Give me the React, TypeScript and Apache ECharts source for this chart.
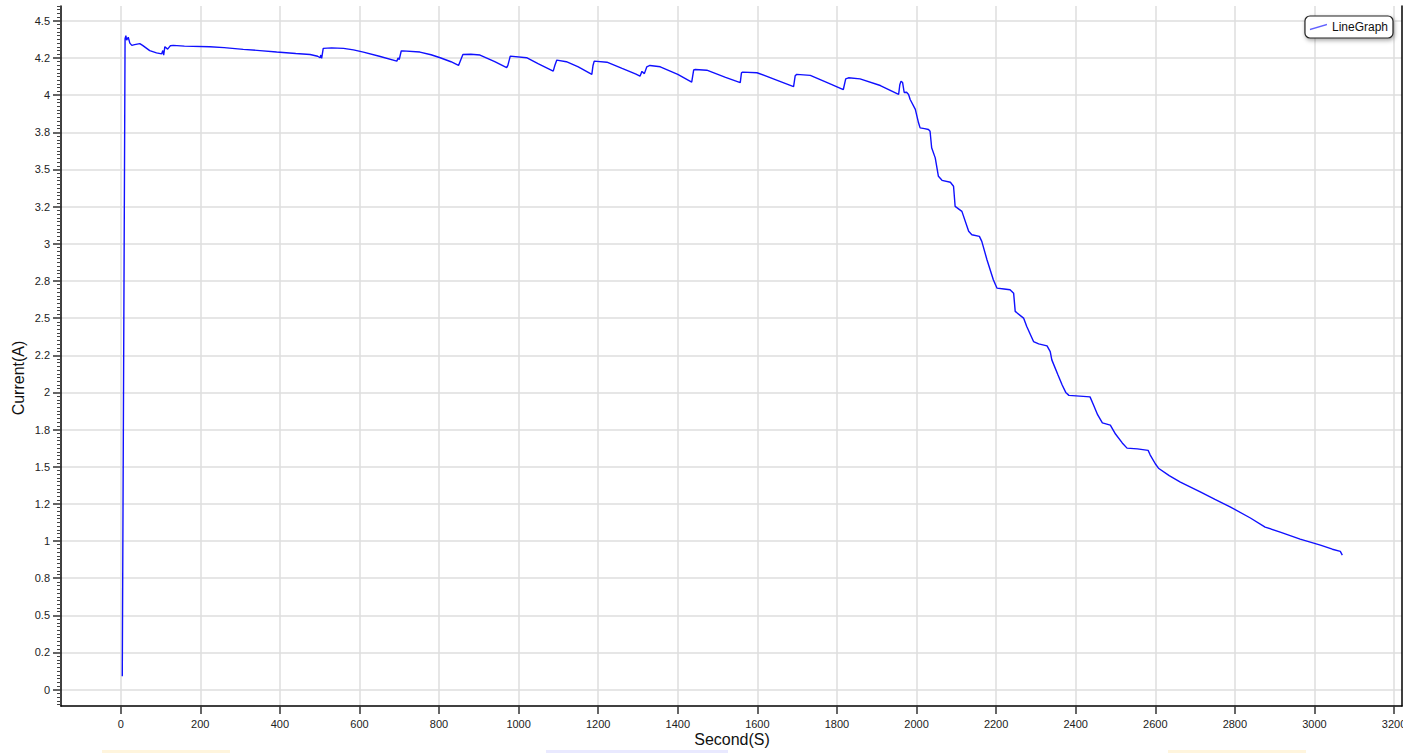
import React, { useEffect, useRef } from "react";
import * as echarts from "echarts";

const seconds = [
  4, 11, 13, 15, 19, 23, 28, 35, 48, 55, 73, 90, 103, 106, 108, 111, 118, 125, 132, 160,
  224, 260, 308, 350, 392, 440, 476, 495, 501, 503, 505, 509, 530, 560, 585, 610, 650, 694,
  697, 700, 705, 709, 752, 780, 803, 830, 849, 852, 860, 880, 903, 940, 970, 973, 979, 1020,
  1050, 1087, 1091, 1096, 1120, 1150, 1184, 1187, 1190, 1222, 1260, 1295, 1300, 1305, 1310,
  1316, 1322, 1330, 1356, 1400, 1435, 1440, 1444, 1473, 1520, 1557, 1560, 1563, 1599, 1650,
  1691, 1695, 1699, 1733, 1780, 1816, 1822, 1829, 1858, 1909, 1951, 1955, 1958, 1961, 1965,
  1969, 1975, 1980, 1984, 1997, 2005, 2009, 2020, 2030, 2034, 2038, 2047, 2055, 2064, 2085,
  2093, 2097, 2114, 2131, 2139, 2158, 2164, 2177, 2193, 2202, 2220, 2235, 2244, 2248, 2269,
  2277, 2294, 2307, 2328, 2336, 2340, 2355, 2366, 2375, 2383, 2410, 2436, 2444, 2455, 2467,
  2487, 2500, 2517, 2529, 2555, 2582, 2587, 2600, 2608, 2635, 2663, 2713, 2750, 2788, 2839,
  2876, 2914, 2964, 3015, 3045, 3065, 3070,
];
const current = [
  0.09, 4.38, 4.4, 4.37, 4.39, 4.35, 4.335, 4.34, 4.347, 4.335, 4.3, 4.285, 4.278, 4.3, 4.27,
  4.326, 4.31, 4.333, 4.335, 4.33, 4.326, 4.32, 4.308, 4.3, 4.29, 4.28, 4.274, 4.262, 4.252,
  4.27, 4.248, 4.315, 4.318, 4.315, 4.305, 4.29, 4.262, 4.229, 4.25, 4.24, 4.297, 4.298, 4.29,
  4.272, 4.252, 4.225, 4.2, 4.22, 4.274, 4.275, 4.27, 4.225, 4.185, 4.2, 4.263, 4.252, 4.21,
  4.162, 4.2, 4.236, 4.225, 4.19, 4.14, 4.2, 4.229, 4.222, 4.18, 4.142, 4.135, 4.128, 4.16,
  4.145, 4.19, 4.2, 4.191, 4.14, 4.088, 4.17, 4.173, 4.168, 4.12, 4.084, 4.15, 4.155, 4.151,
  4.1, 4.057, 4.13, 4.14, 4.133, 4.08, 4.038, 4.11, 4.117, 4.11, 4.065, 4.011, 4.005, 4.07,
  4.094, 4.085, 4.018, 4.02, 4.005, 3.971, 3.904, 3.814, 3.78, 3.775, 3.769, 3.757, 3.646,
  3.578, 3.454, 3.427, 3.414, 3.387, 3.252, 3.218, 3.084, 3.061, 3.05, 3.016, 2.893, 2.758,
  2.702, 2.696, 2.691, 2.668, 2.545, 2.5, 2.443, 2.342, 2.327, 2.313, 2.275, 2.219, 2.12, 2.05,
  2.0, 1.98, 1.975, 1.97, 1.92, 1.85, 1.795, 1.78, 1.72, 1.66, 1.625, 1.62, 1.61, 1.58, 1.52,
  1.49, 1.44, 1.397, 1.33, 1.28, 1.23, 1.155, 1.094, 1.06, 1.013, 0.972, 0.945, 0.93, 0.905,
];

const xTickValues = [0, 200, 400, 600, 800, 1000, 1200, 1400, 1600, 1800, 2000, 2200, 2400, 2600, 2800, 3000, 3200];
const yTickValues = [0, 0.25, 0.5, 0.75, 1, 1.25, 1.5, 1.75, 2, 2.25, 2.5, 2.75, 3, 3.25, 3.5, 3.75, 4, 4.25, 4.5];
const yTickLabels = ["0", "0.2", "0.5", "0.8", "1", "1.2", "1.5", "1.8", "2", "2.2", "2.5", "2.8", "3", "3.2", "3.5", "3.8", "4", "4.2", "4.5"];

const seriesName = "LineGraph";
const xTitle = "Second(S)";
const yTitle = "Current(A)";

const FONT = "'Liberation Sans', Arial, Helvetica, sans-serif";
const Y_MIN = -0.11;
const Y_MAX = 4.6;

export default function App() {
  const ref = useRef<HTMLDivElement>(null);

  useEffect(() => {
    if (!ref.current) return;
    const chart = echarts.init(ref.current, undefined, { renderer: "svg" });

    const minorTicks: number[] = [];
    for (let i = -4; i <= 184; i++) {
      const v = Math.round(i * 0.025 * 1000) / 1000;
      if (i % 10 !== 0 && v >= Y_MIN && v <= Y_MAX) minorTicks.push(v);
    }

    const data = seconds.map((s, i) => [s, current[i]]);

    chart.setOption({
      animation: false,
      backgroundColor: "#ffffff",
      textStyle: { fontFamily: FONT },
      grid: { left: 61, right: 13, top: 6, bottom: 47, containLabel: false },
      legend: {
        data: [{ name: seriesName, icon: "path://M0,5 L17,0 L17,1.5 L0,6.5 Z" }],
        right: 22,
        top: 16,
        padding: [4, 5, 4, 5],
        itemWidth: 17,
        itemHeight: 6.5,
        itemGap: 6,
        borderColor: "#222",
        borderWidth: 1.2,
        borderRadius: 5,
        backgroundColor: "#fff",
        shadowBlur: 4,
        shadowColor: "rgba(0,0,0,0.35)",
        shadowOffsetX: 1,
        shadowOffsetY: 2,
        itemStyle: { color: "#6060ff" },
        textStyle: { fontSize: 12, color: "#111", fontFamily: FONT, lineHeight: 14 },
      },
      xAxis: {
        type: "value",
        min: -150,
        max: 3220,
        axisLine: { show: true, onZero: false, lineStyle: { color: "#000", width: 1.5 } },
        axisTick: { show: true, customValues: xTickValues, length: 8, lineStyle: { color: "#333", width: 1.5 } },
        axisLabel: {
          customValues: xTickValues,
          margin: 12,
          fontSize: 11,
          color: "#222",
          fontFamily: FONT,
          formatter: (v: number) => String(v),
        },
        splitLine: { show: true, lineStyle: { color: "#dedede", width: 1.5 } },
      },
      yAxis: [
        {
          type: "value",
          position: "left",
          min: Y_MIN,
          max: Y_MAX,
          axisLine: { show: true, onZero: false, lineStyle: { color: "#000", width: 1.5 } },
          axisTick: { show: true, customValues: yTickValues, length: 8, lineStyle: { color: "#333", width: 1.5 } },
          axisLabel: {
            customValues: yTickValues,
            margin: 11,
            fontSize: 11,
            color: "#222",
            fontFamily: FONT,
            formatter: (v: number) => {
              const i = yTickValues.findIndex((t) => Math.abs(t - v) < 1e-6);
              return i >= 0 ? yTickLabels[i] : "";
            },
          },
          splitLine: { show: true, lineStyle: { color: "#dedede", width: 1.5 } },
        },
        {
          type: "value",
          position: "left",
          min: Y_MIN,
          max: Y_MAX,
          axisLine: { show: false, onZero: false },
          axisTick: { show: true, customValues: minorTicks, length: 4, lineStyle: { color: "#444", width: 1 } },
          axisLabel: { show: false },
          splitLine: { show: false },
        },
        {
          type: "value",
          position: "right",
          min: Y_MIN,
          max: Y_MAX,
          axisLine: { show: true, onZero: false, lineStyle: { color: "#000", width: 1.5 } },
          axisTick: { show: false },
          axisLabel: { show: false },
          splitLine: { show: false },
        },
      ],
      series: [
        {
          name: seriesName,
          type: "line",
          yAxisIndex: 0,
          data,
          showSymbol: false,
          symbol: "none",
          lineStyle: { color: "#1010ff", width: 1.4 },
          itemStyle: { color: "#1010ff" },
          z: 5,
        },
      ],
      graphic: [
        {
          type: "rect",
          shape: { x: 1403, y: 710, width: 12, height: 30 },
          style: { fill: "#ffffff" },
          z: 100,
        },
        {
          type: "text",
          x: 18,
          y: 378,
          rotation: Math.PI / 2,
          style: {
            text: yTitle,
            font: `16px ${FONT}`,
            fill: "#111",
            textAlign: "center",
            textVerticalAlign: "middle",
          },
          z: 100,
        },
        {
          type: "text",
          x: 732,
          y: 739,
          style: {
            text: xTitle,
            font: `16px ${FONT}`,
            fill: "#111",
            textAlign: "center",
            textVerticalAlign: "middle",
          },
          z: 100,
        },
        { type: "rect", shape: { x: 102, y: 750, width: 128, height: 3 }, style: { fill: "#fff5dd" }, z: 100 },
        { type: "rect", shape: { x: 546, y: 750, width: 182, height: 3 }, style: { fill: "#e9e9ff" }, z: 100 },
        { type: "rect", shape: { x: 1168, y: 750, width: 138, height: 3 }, style: { fill: "#fff5dd" }, z: 100 },
      ],
    });

    return () => chart.dispose();
  }, []);

  return (
    <div
      ref={ref}
      style={{ position: "fixed", left: 0, top: 0, width: 1415, height: 753, background: "#fff" }}
    />
  );
}
